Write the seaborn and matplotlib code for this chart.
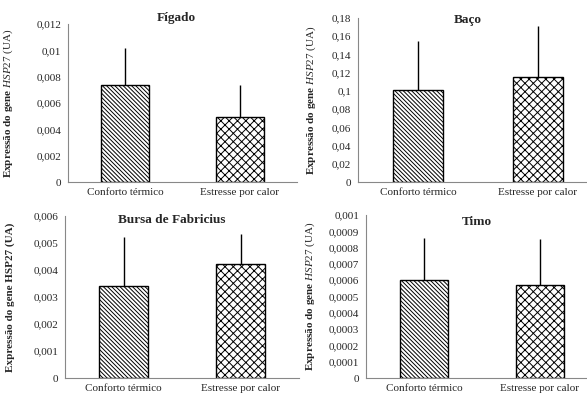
import matplotlib
matplotlib.use("Agg")
import matplotlib.pyplot as plt
import seaborn as sns
import pandas as pd
from matplotlib.ticker import FuncFormatter, MultipleLocator, FixedLocator

sns.set_style("white")
plt.rcParams['font.family'] = ['Liberation Serif', 'DejaVu Serif']
plt.rcParams['mathtext.fontset'] = 'custom'
plt.rcParams['mathtext.rm'] = 'Liberation Serif'
plt.rcParams['mathtext.it'] = 'Liberation Serif:italic'
plt.rcParams['mathtext.bf'] = 'Liberation Serif:bold'
plt.rcParams['hatch.color'] = '#4a4a4a'
plt.rcParams['hatch.linewidth'] = 0.7

categories = ["Conforto térmico", "Estresse por calor"]

figado_mean = [0.0074, 0.0049]
figado_err = [0.0028, 0.0025]
baco_mean = [0.1015, 0.115]
baco_err = [0.0535, 0.0565]
bursa_mean = [0.00342, 0.00424]
bursa_err = [0.0018, 0.0011]
timo_mean = [0.00060, 0.000572]
timo_err = [0.000258, 0.000278]

titles = ["Fígado", "Baço", "Bursa de Fabricius", "Timo"]
ylims = [0.012, 0.18, 0.006, 0.001]
ysteps = [0.002, 0.02, 0.001, 0.0001]

W, H = 587, 398
fig = plt.figure(figsize=(W / 100, H / 100), dpi=100)

# pixel boxes: left, right, top, bottom
boxes = [(68, 297, 24, 182), (358, 598, 18, 182), (65, 299, 216, 378), (366, 598, 215, 378)]
label_x = [15, 318, 15, 317]
title_pos = [(176, 18), (468, 20), (172, 220), (477, 222)]
means = [figado_mean, baco_mean, bursa_mean, timo_mean]
errs = [figado_err, baco_err, bursa_err, timo_err]
italic = [True, True, False, True]
hatches = ["\\\\\\\\\\\\\\\\", "xxxx"]

for i in range(4):
    l, r, t, b = boxes[i]
    ax = fig.add_axes([l / W, (H - b) / H, (r - l) / W, (b - t) / H])
    df = pd.DataFrame({"cat": categories, "val": means[i]})
    sns.barplot(data=df, x="cat", y="val", ax=ax, color="white", width=0.42,
                edgecolor="black", linewidth=1.0, errorbar=None)
    for p, h in zip(ax.patches, hatches):
        p.set_hatch(h)
    ax.errorbar(range(2), means[i], yerr=[[0, 0], errs[i]], fmt="none",
                ecolor="black", elinewidth=1.0, capsize=0, zorder=1)
    for p in ax.patches:
        p.set_zorder(2)
    ax.set_xlim(-0.5, 1.5)
    ax.set_ylim(0, ylims[i])
    ax.yaxis.set_major_locator(MultipleLocator(ysteps[i]))
    ax.yaxis.set_major_formatter(FuncFormatter(lambda v, pos: ("%g" % round(v, 6)).replace(".", ",")))
    ax.xaxis.set_minor_locator(FixedLocator([-0.5, 0.5, 1.5]))
    ax.tick_params(axis="x", which="major", length=0, labelsize=8, pad=4)
    ax.tick_params(axis="x", which="minor", length=4, width=0.8, color="#888888", direction="out")
    ax.tick_params(axis="y", length=3, width=0.8, color="#888888", direction="out", labelsize=8, pad=2)
    for s in ["top", "right"]:
        ax.spines[s].set_visible(False)
    for s in ["left", "bottom"]:
        ax.spines[s].set_color("#888888")
        ax.spines[s].set_linewidth(0.8)
    ax.set_xlabel("")
    if italic[i]:
        lab = "Expressão do gene $\\mathit{HSP27}\\ \\mathrm{(UA)}$"
    else:
        lab = "Expressão do gene HSP27 (UA)"
    ax.set_ylabel(lab, fontsize=8, fontweight="bold")
    ax.yaxis.set_label_coords((label_x[i] - l) / (r - l), 0.5)
    tx, ty = title_pos[i]
    fig.text(tx / W, (H - ty) / H, titles[i], fontsize=9.5, fontweight="bold",
             ha="center", va="center")

fig.savefig("out.png", dpi=100)
